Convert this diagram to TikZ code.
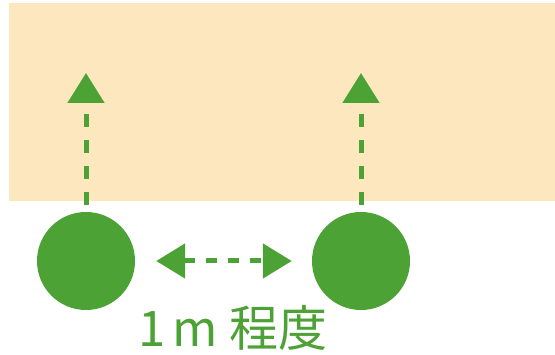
\documentclass[tikz,border=0pt]{standalone}
\usepackage{fontspec}
\newfontfamily\cjk{Noto Sans CJK JP}
\usetikzlibrary{arrows.meta}
\definecolor{leaf}{RGB}{76,162,52}
\definecolor{sand}{RGB}{252,231,190}
\tikzset{
  tree/.style={circle, fill=leaf, draw=none, minimum size=98pt, inner sep=0pt},
  dasharrow/.style={draw=leaf, line width=5pt, dash pattern=on 13pt off 13pt, -{Triangle[width=36pt,length=30pt]}},
  dasharrowh/.style={draw=leaf, line width=5pt, dash pattern=on 11pt off 11pt, {Triangle[width=34pt,length=29pt]}-{Triangle[width=34pt,length=29pt]}},
  lbl/.style={text=leaf, font=\cjk\fontsize{49}{54}\selectfont, inner sep=0pt}
}
\begin{document}
\begin{tikzpicture}[x=1pt,y=-1pt]
\useasboundingbox (0,0) rectangle (555,355);
\fill[white] (0,0) rectangle (555,355);
\fill[sand] (9,3) rectangle (555,201);
\node[tree] (a) at (86,261) {};
\node[tree] (b) at (361,261) {};
\coordinate (ta) at (86,73);
\coordinate (tb) at (361,73);
\draw[dasharrow, shorten <=7pt] (a.north) -- (ta);
\draw[dasharrow, shorten <=7pt] (b.north) -- (tb);
\draw[dasharrowh, shorten <=21pt, shorten >=20pt] (a.east) -- (b.west);
\node[lbl] (t) at (233,328) {1\hspace{7pt}m\hspace{12pt}程度};
\end{tikzpicture}
\end{document}
